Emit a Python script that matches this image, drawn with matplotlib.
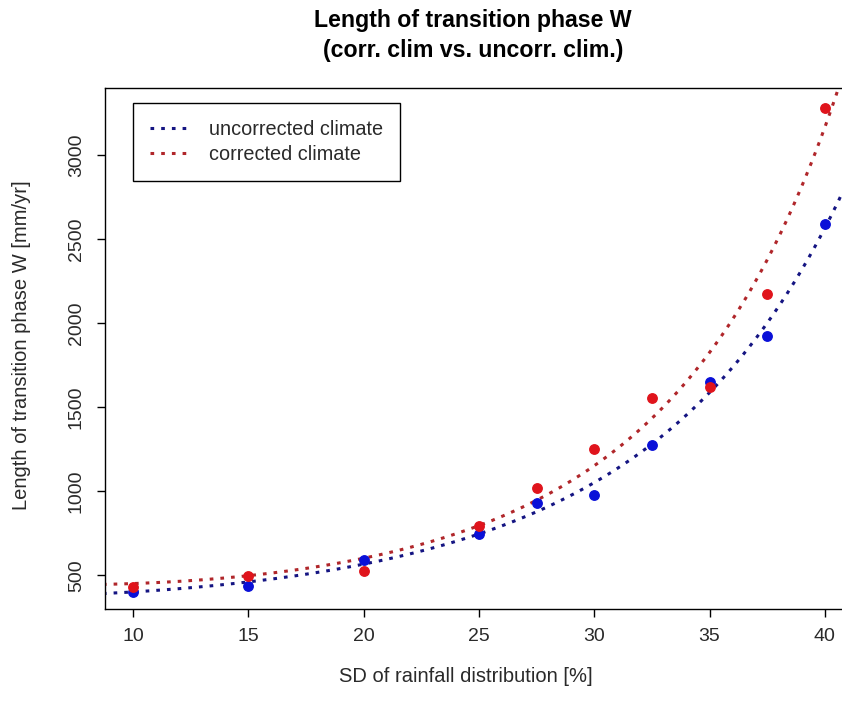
import numpy as np
import matplotlib
matplotlib.use("Agg")
import matplotlib.pyplot as plt

plt.rcParams["font.family"] = ["Liberation Sans", "DejaVu Sans"]

# SD of rainfall distribution [%]
sd = [10, 15, 20, 25, 27.5, 30, 32.5, 35, 37.5, 40]
# length of transition phase W [mm/yr]
w_uncorr = [400, 438, 589, 743, 928, 975, 1278, 1652, 1925, 2590]
w_corr = [429, 494, 524, 791, 1017, 1254, 1557, 1622, 2175, 3279]

xticks = [10, 15, 20, 25, 30, 35, 40]
yticks = [500, 1000, 1500, 2000, 2500, 3000]

line_blue = "#141482"
line_red = "#b0262a"
pt_blue = "#0a10d8"
pt_red = "#e0141c"
txt = "#2a2a2a"
dots = (0, (1.2, 2.3))

fig = plt.figure(figsize=(8.42, 7.15), dpi=100)
ax = fig.add_axes([105 / 842, 1 - 609 / 715, 737 / 842, 521 / 715])

# exponential-quadratic trend curves, fitted on the raw scale (weights = y)
xs = np.linspace(8.7, 40.8, 300)
for w, lc in [(w_uncorr, line_blue), (w_corr, line_red)]:
    coef = np.polyfit(sd, np.log(w), 2, w=np.array(w, float))
    ax.plot(xs, np.exp(np.polyval(coef, xs)), color=lc, lw=2.2,
            linestyle=dots, zorder=2)

ax.plot(sd, w_uncorr, "o", color=pt_blue, ms=6.8, zorder=3)
ax.plot(sd, w_corr, "o", color=pt_red, ms=6.8, zorder=3)

ax.set_xlim(8.79, 40.74)
ax.set_ylim(300, 3398)
ax.set_xticks(xticks)
ax.set_yticks(yticks)
ax.set_xticklabels([str(t) for t in xticks], fontsize=14, color=txt)
ax.set_yticklabels([str(t) for t in yticks], fontsize=14, color=txt,
                   rotation=90, va="center")
ax.tick_params(direction="out", length=5.5, width=1)
ax.tick_params(axis="x", pad=8)
ax.tick_params(axis="y", pad=9)
ax.spines["right"].set_visible(False)
for s in ax.spines.values():
    s.set_linewidth(1)

ax.set_xlabel("SD of rainfall distribution [%]", fontsize=14.5, color=txt)
ax.xaxis.label.set_va("center")
ax.xaxis.set_label_coords((466 - 105) / 737, -(677 - 609) / 521)
ax.set_ylabel("Length of transition phase W [mm/yr]", fontsize=14.5, color=txt)
ax.yaxis.label.set_va("center")
ax.yaxis.set_label_coords(-(105 - 22) / 737, (609 - 345) / 521)

fig.text(473 / 842, 1 - 21 / 715, "Length of transition phase W",
         fontsize=16.7, fontweight="bold", ha="center", va="center")
fig.text(473 / 842, 1 - 51 / 715, "(corr. clim vs. uncorr. clim.)",
         fontsize=16.7, fontweight="bold", ha="center", va="center")

h1, = ax.plot([], [], color=line_blue, lw=2.2, linestyle=dots)
h2, = ax.plot([], [], color=line_red, lw=2.2, linestyle=dots)
leg = ax.legend([h1, h2], ["uncorrected climate", "corrected climate"],
                loc="upper left", bbox_to_anchor=(133 / 842, 1 - 103 / 715),
                bbox_transform=fig.transFigure, borderaxespad=0,
                fancybox=False, edgecolor="black", framealpha=1,
                fontsize=14.3, handlelength=1.9, handletextpad=1.1,
                borderpad=0.85, labelspacing=0.3)
leg.get_frame().set_linewidth(1)
for t in leg.get_texts():
    t.set_color(txt)

fig.savefig("out.png", dpi=100)
